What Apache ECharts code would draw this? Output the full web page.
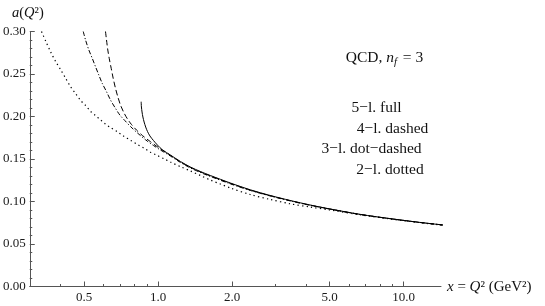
<!DOCTYPE html>
<html><head><meta charset="utf-8">
<script src="https://cdn.jsdelivr.net/npm/echarts@6/dist/echarts.min.js"></script>
<style>html,body{margin:0;padding:0;background:#fff}#c{width:545px;height:306px}</style>
</head><body><div id="c"></div>
<script>
// Tick values
const xMajorTicks = [0.5, 1, 2, 5, 10];
const xMinorTicks = [0.3, 0.4, 0.6, 0.7, 0.8, 0.9, 3, 4, 6, 7, 8, 9];
// 5-loop (full)
const q5 = [0.853,0.855,0.860,0.867,0.877,0.890,0.905,0.926,0.957,0.993,1.041,1.122,1.232,1.353,1.486,1.632,1.968,2.373,2.861,3.450,4.160,5.016,6.643,8.794,11.65,14.45];
const a5 = [0.2174,0.2112,0.2053,0.1994,0.1935,0.1876,0.1824,0.1771,0.1718,0.1665,0.1608,0.1547,0.1471,0.1406,0.1353,0.1306,0.1218,0.1138,0.1071,0.1012,0.0959,0.0912,0.0849,0.0799,0.0754,0.0724];
// 4-loop (dashed)
const q4 = [0.6105,0.6163,0.6238,0.6321,0.6440,0.6562,0.6704,0.6850,0.7026,0.7248,0.7503,0.7789,0.8162,0.8634,0.9305,1.0028,1.0707,1.1433,1.2321,1.3529,1.4859,1.6318,1.9677,2.3729,2.8614,3.4506,4.1610,5.0176,6.6425,8.7945,11.650,14.446];
const a4 = [0.300,0.2900,0.2782,0.2685,0.2567,0.2449,0.2332,0.2233,0.2135,0.2047,0.1971,0.1906,0.1841,0.1776,0.1704,0.1635,0.1582,0.1527,0.1466,0.1401,0.1348,0.1301,0.1213,0.1134,0.1068,0.1010,0.0957,0.0911,0.0848,0.0798,0.0754,0.0724];
// 3-loop (dot-dashed)
const q3 = [0.4955,0.5063,0.5223,0.5391,0.5559,0.5734,0.5919,0.6163,0.6398,0.6704,0.6980,0.7316,0.7717,0.8239,0.8880,0.9570,1.0218,1.1220,1.2321,1.3529,1.4859,1.6318,1.9677,2.3729,2.8614,3.4506,4.1610,5.0176,6.6425,8.7945,11.650,14.446];
const a3 = [0.300,0.2900,0.2782,0.2685,0.2586,0.2488,0.2391,0.2292,0.2194,0.2096,0.2018,0.1953,0.1882,0.1806,0.1727,0.1659,0.1606,0.1535,0.1460,0.1395,0.1342,0.1295,0.1208,0.1130,0.1065,0.1007,0.0955,0.0910,0.0847,0.0798,0.0753,0.0723];
// 2-loop (dotted)
const q2 = [0.335,0.348,0.365,0.382,0.401,0.420,0.440,0.461,0.483,0.506,0.531,0.556,0.583,0.611,0.640,0.683,0.723,0.772,0.824,0.872,0.931,0.994,1.061,1.122,1.232,1.353,1.486,1.632,1.792,1.968,2.373,2.861,3.451,4.161,5.018,6.643,8.795,11.65,14.45];
const a2 = [0.300,0.289,0.276,0.265,0.255,0.245,0.235,0.227,0.219,0.213,0.206,0.201,0.196,0.191,0.187,0.182,0.177,0.172,0.167,0.163,0.158,0.154,0.150,0.1465,0.141,0.136,0.1306,0.1253,0.1206,0.1159,0.1082,0.1024,0.0973,0.0935,0.0900,0.0844,0.0795,0.0752,0.0721];

const legendLabels = ['5\u2212l. full', '4\u2212l. dashed', '3\u2212l. dot\u2212dashed', '2\u2212l. dotted'];

const pair = (q, a) => q.map((v, i) => [v, a[i]]);
const FONT = 'Liberation Serif';
const AX = '#555';
const chart = echarts.init(document.getElementById('c'), null, {renderer: 'canvas'});

function mkSeries(name, q, a, type, width) {
  return {
    name, type: 'line', data: pair(q, a), showSymbol: false, smooth: 0.3,
    xAxisIndex: 0, yAxisIndex: 0, clip: true, silent: true,
    lineStyle: {color: '#000', width: width || 1, type: type}
  };
}

const serifText = (x, y, text, size, align, rich) => ({
  type: 'text', x, y, silent: true,
  style: {text, fill: '#111', font: size + 'px "' + FONT + '"', align: align || 'left',
          verticalAlign: 'middle', rich: rich || {}}
});

const richIt = (size) => ({
  i: {fontStyle: 'italic', fontFamily: FONT, fontSize: size, color: '#111'},
  sub: {fontStyle: 'italic', fontFamily: FONT, fontSize: size * 0.7, color: '#111', padding: [9, 2, 0, 0]},
  n: {fontFamily: FONT, fontSize: size, color: '#111'}
});

chart.setOption({
  animation: false,
  backgroundColor: '#fff',
  grid: {left: 29, top: 31.5, width: 412, height: 255, containLabel: false},
  xAxis: [{
    type: 'log', logBase: 10, min: 0.3, max: 14.2,
    axisLine: {show: true, onZero: false, lineStyle: {color: AX, width: 1}},
    axisTick: {show: true, inside: true, length: 5, customValues: xMajorTicks, lineStyle: {color: AX}},
    axisLabel: {show: true, customValues: xMajorTicks, formatter: v => Number(v).toFixed(1),
      fontFamily: FONT, fontSize: 13, color: '#1a1a1a', margin: 5},
    splitLine: {show: false}, minorTick: {show: false}, minorSplitLine: {show: false}
  }, {
    type: 'log', logBase: 10, min: 0.3, max: 14.2, gridIndex: 0, position: 'bottom',
    axisLine: {show: false},
    axisTick: {show: true, inside: true, length: 2.5, customValues: xMinorTicks, lineStyle: {color: AX}},
    axisLabel: {show: false},
    splitLine: {show: false}
  }],
  yAxis: [{
    type: 'value', min: 0, max: 0.3, interval: 0.05,
    axisLine: {show: true, onZero: false, lineStyle: {color: AX, width: 1}},
    axisTick: {show: true, inside: true, length: 5, lineStyle: {color: AX}},
    minorTick: {show: true, splitNumber: 5, length: 2.5, lineStyle: {color: AX}},
    axisLabel: {formatter: v => v.toFixed(2), fontFamily: FONT, fontSize: 13, color: '#1a1a1a', margin: 4},
    splitLine: {show: false}
  }],
  series: [
    mkSeries(legendLabels[0], q5, a5, 'solid', 1),
    mkSeries(legendLabels[1], q4, a4, [5.5, 3], 1),
    mkSeries(legendLabels[2], q3, a3, [4.5, 2, 1.2, 2], 1),
    mkSeries(legendLabels[3], q2, a2, [1.3, 3.2], 1.2)
  ],
  graphic: [
    serifText(12, 13, '{i|a}{n|(}{i|Q}{n|\u00b2)}', 14.5, 'left', richIt(14.5)),
    serifText(447, 287, '{i|x}{n| = }{i|Q}{n|\u00b2 (GeV\u00b2)}', 15, 'left', richIt(15)),
    serifText(384.5, 58, '{n|QCD, }{i|n}{sub|f}{n| = 3}', 15.5, 'center', richIt(15.5)),
    serifText(376.5, 108, legendLabels[0], 15.5, 'center'),
    serifText(392.5, 128.5, legendLabels[1], 15.5, 'center'),
    serifText(371.5, 149, legendLabels[2], 15.5, 'center'),
    serifText(390, 169.5, legendLabels[3], 15.5, 'center')
  ]
});
</script></body></html>
